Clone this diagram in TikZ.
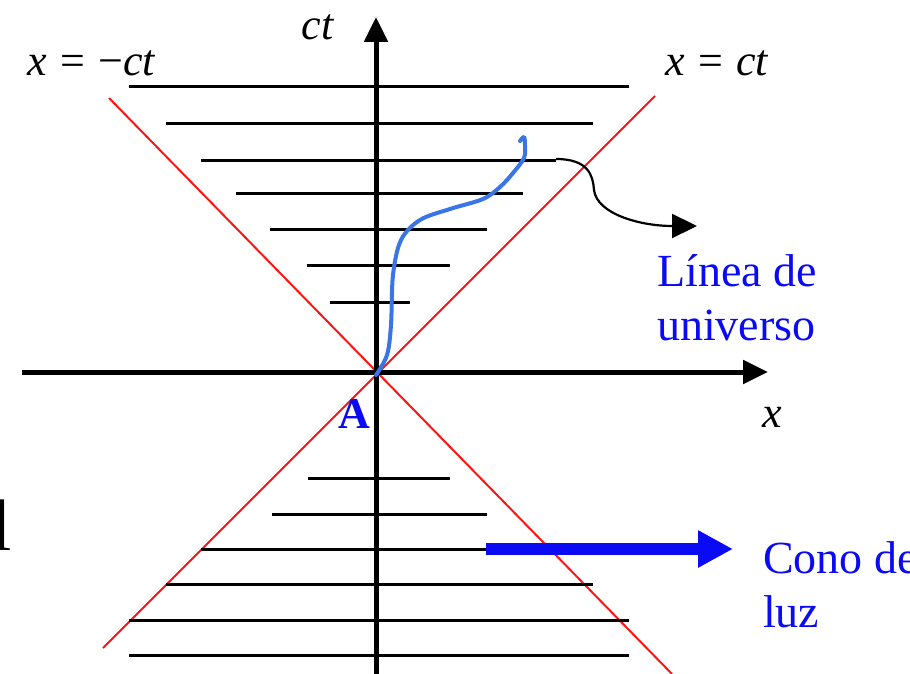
\documentclass[tikz,border=0pt]{standalone}
\usepackage{fontspec}
\setmainfont{Liberation Serif}
\usetikzlibrary{arrows.meta}
\definecolor{wl}{RGB}{58,117,232}
\definecolor{conered}{RGB}{255,20,20}
\definecolor{txtblue}{RGB}{10,10,245}
\begin{document}
\begin{tikzpicture}[x=1pt,y=-1pt,
  axis/.style={line width=5pt,-{Triangle[length=25pt,width=23pt]}},
  hline/.style={line width=3pt},
  cone/.style={conered,line width=2pt},
  lbl/.style={inner sep=0pt,font=\fontsize{44}{50}\selectfont},
  btxt/.style={inner sep=0pt,text=txtblue,align=left,font=\fontsize{46}{54}\selectfont},
]
\useasboundingbox (0,0) rectangle (910,674);
\fill[white] (0,0) rectangle (910,674);
% light cone
\coordinate (O) at (376,372);
\coordinate (c1a) at (103,648);
\coordinate (c1b) at (655,96);
\coordinate (c2a) at (109,98);
\coordinate (c2b) at (672,674);
\draw[cone] (c1a) -- (c1b);
\draw[cone] (c2a) -- (c2b);
% horizontal lines (future)
\foreach \y/\a/\b in {87/129/629,124/166/593,160/201/556,193/236/523,229/270/487,265/307/450,302/330/410}
  \draw[hline] (\a,\y) -- (\b,\y);
% horizontal lines (past)
\foreach \y/\a/\b in {478/308/450,514/272/487,549/201/556,584/166/593,620/129/629,655/129/629}
  \draw[hline] (\a,\y) -- (\b,\y);
% axes
\coordinate (xs) at (22,372);
\coordinate (xe) at (768,372);
\coordinate (ys) at (376,680);
\coordinate (ye) at (376,17);
\draw[axis] (xs) -- (xe);
\draw[axis] (ys) -- (ye);
% world line
\draw[wl,line width=4pt,line cap=round,line join=round]
  plot[smooth,tension=0.55] coordinates {(376,375) (387,355) (391,325) (393,275) (401,240) (420,220) (450,209) (483,199) (500,187) (513,173) (524,158) (525,145) (524,137) (520,141)};
% arrow to label
\coordinate (wa) at (556,159);
\coordinate (wt) at (697,226);
\draw[line width=2.2pt,-{Triangle[length=25pt,width=24pt]}]
  (wa) .. controls (588,159) and (593,175) .. (594,190)
  .. controls (597,214) and (640,226) .. (wt);
% blue arrow to cone label
\coordinate (ba) at (486,549);
\coordinate (bt) at (733,549);
\draw[txtblue,line width=12pt,-{Triangle[length=35pt,width=35pt]}] (ba) -- (bt);
% labels
\node[lbl] (ct) at (318,27) {\textit{ct}};
\node[lbl] (xmct) at (92,63) {\textit{x}\hspace{0.3em}=\hspace{0.3em}−\textit{ct}};
\node[lbl] (xct) at (717,63) {\textit{x}\hspace{0.3em}=\hspace{0.3em}\textit{ct}};
\node[lbl] (xl) at (772,417) {\textit{x}};
\node[inner sep=0pt,text=txtblue,font=\fontsize{44}{50}\selectfont\bfseries] (A) at (354,414) {A};
\node[btxt,anchor=base west] (linea) at (657,340) {Línea de\\universo};
\node[btxt,anchor=base west] (cono) at (763,627) {Cono de\\luz};
\node[inner sep=0pt,anchor=base west,font=\fontsize{73}{80}\selectfont] (lcut) at (-9,550) {l};
\end{tikzpicture}
\end{document}
